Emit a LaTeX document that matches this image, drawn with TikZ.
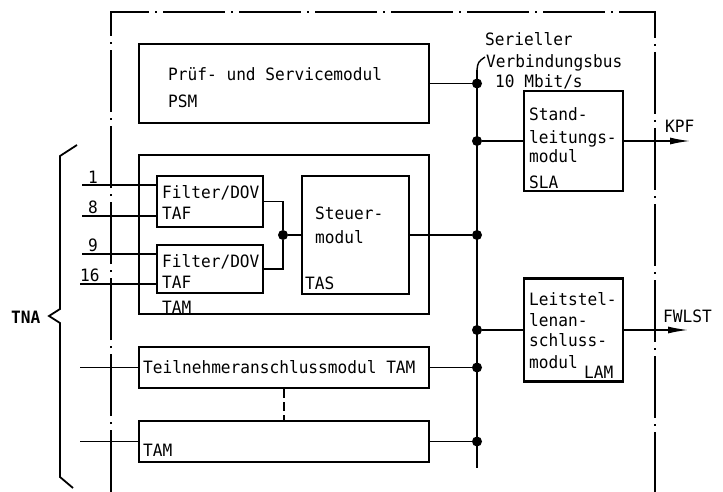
\documentclass[tikz,border=0pt]{standalone}
\usepackage{fontspec}
\newfontfamily\plotfont[FakeStretch=0.95]{DejaVu Sans Mono}
\usetikzlibrary{arrows.meta,calc,positioning}
\tikzset{
    boxsty/.style={draw,rectangle,line width=2.2pt,inner sep=0pt},
    wiresty/.style={line width=1.4pt},
    bussty/.style={line width=1.8pt},
    dotsty/.style={circle,fill,inner sep=0pt,minimum size=10pt},
    txtsty/.style={anchor=base west,inner sep=0pt,font=\plotfont\fontsize{17}{21}\selectfont},
    framesty/.style={line width=1.8pt,dash pattern=on 62pt off 6pt on 2pt off 6pt},
    bracesty/.style={line width=1.8pt,line join=miter},
    outsty/.style={wiresty,-{Latex[length=20pt,width=7pt]}},
}

\begin{document}
\begin{tikzpicture}[x=1pt,y=-1pt]
  \useasboundingbox (0,0) rectangle (723,492);

  % frame
  \draw[framesty] (111,492) -- (111,12) -- (655,12) -- (655,492);

  % modules
  \node[boxsty,minimum width=290pt,minimum height=79pt]  (psm)  at (284,83.5) {};
  \node[boxsty,minimum width=290pt,minimum height=159pt] (tam)  at (284,234.5) {};
  \node[boxsty,minimum width=106pt,minimum height=51pt]  (taf1) at (210,201.5) {};
  \node[boxsty,minimum width=106pt,minimum height=48pt]  (taf2) at (210,269) {};
  \node[boxsty,minimum width=107pt,minimum height=118pt] (tas)  at (355.5,235) {};
  \node[boxsty,minimum width=99pt,minimum height=100pt]  (sla)  at (573.5,141) {};
  \node[boxsty,minimum width=99pt,minimum height=103pt]  (lam)  at (573.5,330) {};
  \node[boxsty,minimum width=290pt,minimum height=41pt]  (tamA) at (284,367.5) {};
  \node[boxsty,minimum width=290pt,minimum height=41pt]  (tamB) at (284,441.5) {};

  % texts
  \node[txtsty] (psmt1) at (168,81)  {Prüf- und Servicemodul};
  \node[txtsty] (psmt2) at (168,108) {PSM};
  \node[txtsty] (taf1a) at (162,198) {Filter/DOV};
  \node[txtsty] (taf1b) at (162,219) {TAF};
  \node[txtsty] (taf2a) at (162,267) {Filter/DOV};
  \node[txtsty] (taf2b) at (162,288) {TAF};
  \node[txtsty] (tamt)  at (162,313) {TAM};
  \node[txtsty] (tas1)  at (315,219) {Steuer-};
  \node[txtsty] (tas2)  at (315,243) {modul};
  \node[txtsty] (tas3)  at (305,289) {TAS};
  \node[txtsty] (sla1)  at (529,121) {Stand-};
  \node[txtsty] (sla2)  at (529,143) {leitungs-};
  \node[txtsty] (sla3)  at (529,163) {modul};
  \node[txtsty] (sla4)  at (529,189) {SLA};
  \node[txtsty] (lam1)  at (529,305) {Leitstel-};
  \node[txtsty] (lam2)  at (529,326) {lenan-};
  \node[txtsty] (lam3)  at (529,346) {schluss-};
  \node[txtsty] (lam4)  at (529,368) {modul};
  \node[txtsty] (lam5)  at (584,378) {LAM};
  \node[txtsty] (tamAt) at (143,373) {Teilnehmeranschlussmodul TAM};
  \node[txtsty] (tamBt) at (143,456) {TAM};
  \node[txtsty] (bus1)  at (485,46)  {Serieller};
  \node[txtsty] (bus2)  at (486,68)  {Verbindungsbus};
  \node[txtsty] (bus3)  at (495,88)  {10 Mbit/s};
  \node[txtsty] (kpft)  at (665,133) {KPF};
  \node[txtsty] (fwlt)  at (663,322) {FWLST};
  \node[txtsty,font=\plotfont\bfseries\fontsize{17}{21}\selectfont] (tna) at (11,323) {TNA};

  % bus
  \coordinate (busT) at (477,70);
  \coordinate (busB) at (477,468);
  \coordinate (lead) at (485,57);
  \draw[bussty] (busT) -- (busB);
  \draw[wiresty] (busT) .. controls (478,62) .. (lead);

  \node[dotsty] (dpsm)  at (psm.east -| busT) {};
  \node[dotsty] (dsla)  at (sla.west -| busT) {};
  \node[dotsty] (dtas)  at (tas.east -| busT) {};
  \node[dotsty] (dlam)  at (lam.west -| busT) {};
  \node[dotsty] (dtamA) at (tamA.east -| busT) {};
  \node[dotsty] (dtamB) at (tamB.east -| busT) {};
  \draw[wiresty] (psm.east) -- (dpsm);
  \draw[wiresty] (dsla) -- (sla.west);
  \draw[wiresty] (tas.east) -- (dtas);
  \draw[wiresty] (dlam) -- (lam.west);
  \draw[wiresty] (tamA.east) -- (dtamA);
  \draw[wiresty] (tamB.east) -- (dtamB);

  % outputs
  \coordinate (kpf) at (690,141);
  \coordinate (fwl) at (688,330);
  \draw[outsty] (sla.east) -- (kpf);
  \draw[outsty] (lam.east) -- (fwl);

  % filter to Steuermodul
  \node[dotsty] (dj) at (283,235) {};
  \draw[wiresty] (taf1.east) -| (dj);
  \draw[wiresty] (taf2.east) -| (dj);
  \draw[wiresty] (dj) -- (tas.west);
  \draw[wiresty,dash pattern=on 9pt off 4pt] (tamA.south) -- (tamB.north);

  % subscriber lines
  \coordinate (in1)  at (82,185);
  \coordinate (in8)  at (82,216);
  \coordinate (in9)  at (82,254);
  \coordinate (in16) at (80,284);
  \coordinate (inA)  at (80,367.5);
  \coordinate (inB)  at (80,441.5);
  \draw[wiresty] (in1)  -- (in1 -| taf1.west);
  \draw[wiresty] (in8)  -- (in8 -| taf1.west);
  \draw[wiresty] (in9)  -- (in9 -| taf2.west);
  \draw[wiresty] (in16) -- (in16 -| taf2.west);
  \draw[wiresty] (inA)  -- (tamA.west);
  \draw[wiresty] (inB)  -- (tamB.west);
  \node[txtsty] (n1)  at (88,183) {1};
  \node[txtsty] (n8)  at (88,213) {8};
  \node[txtsty] (n9)  at (88,251) {9};
  \node[txtsty] (n16) at (80,281) {16};

  % brace
  \draw[bracesty] (77,145) -- (60,156) -- (60,309) -- (49,316) -- (60,323) -- (60,477) -- (73,488);
\end{tikzpicture}
\end{document}
